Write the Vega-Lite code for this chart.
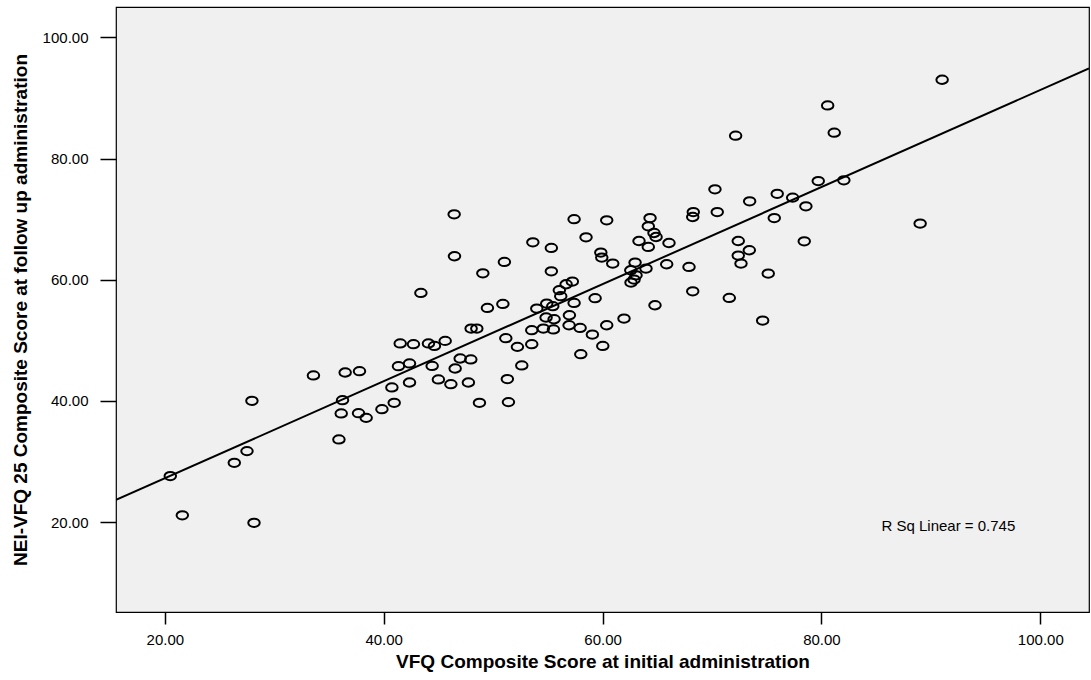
{
  "$schema": "https://vega.github.io/schema/vega-lite/v6.json",
  "autosize": {"type": "none"},
  "padding": {"left": 116, "top": 7, "right": 2, "bottom": 68},
  "width": 973,
  "height": 605,
  "background": "#ffffff",
  "config": {
    "view": {"fill": "#f0f0f0", "stroke": "#000000", "strokeWidth": 1.2},
    "font": "Liberation Sans",
    "axis": {
      "grid": false,
      "domain": false,
      "tickColor": "#000000",
      "tickWidth": 1.5,
      "labelColor": "#000000",
      "labelFont": "Liberation Sans",
      "labelFontSize": 15,
      "titleFont": "Liberation Sans",
      "titleFontWeight": "bold",
      "titleFontSize": 19,
      "titleColor": "#000000"
    }
  },
  "data": {
    "values": [
      {"initial": 20.50, "followup": 27.59},
      {"initial": 21.60, "followup": 21.11},
      {"initial": 28.15, "followup": 19.88},
      {"initial": 26.35, "followup": 29.78},
      {"initial": 27.51, "followup": 31.71},
      {"initial": 27.96, "followup": 40.01},
      {"initial": 36.24, "followup": 40.12},
      {"initial": 36.12, "followup": 37.93},
      {"initial": 35.91, "followup": 33.64},
      {"initial": 33.58, "followup": 44.20},
      {"initial": 41.51, "followup": 49.48},
      {"initial": 42.72, "followup": 49.36},
      {"initial": 44.09, "followup": 49.48},
      {"initial": 44.64, "followup": 49.08},
      {"initial": 45.62, "followup": 49.91},
      {"initial": 36.48, "followup": 44.69},
      {"initial": 37.79, "followup": 44.91},
      {"initial": 41.35, "followup": 45.73},
      {"initial": 42.36, "followup": 46.18},
      {"initial": 44.43, "followup": 45.78},
      {"initial": 46.99, "followup": 47.00},
      {"initial": 47.96, "followup": 46.84},
      {"initial": 46.53, "followup": 45.35},
      {"initial": 40.75, "followup": 42.22},
      {"initial": 42.36, "followup": 43.04},
      {"initial": 45.00, "followup": 43.54},
      {"initial": 46.14, "followup": 42.76},
      {"initial": 47.74, "followup": 43.04},
      {"initial": 37.70, "followup": 37.98},
      {"initial": 38.40, "followup": 37.20},
      {"initial": 39.84, "followup": 38.64},
      {"initial": 40.96, "followup": 39.68},
      {"initial": 48.75, "followup": 39.68},
      {"initial": 53.63, "followup": 66.19},
      {"initial": 55.32, "followup": 65.25},
      {"initial": 46.47, "followup": 63.88},
      {"initial": 46.44, "followup": 70.80},
      {"initial": 51.03, "followup": 62.94},
      {"initial": 49.06, "followup": 61.07},
      {"initial": 55.32, "followup": 61.40},
      {"initial": 43.40, "followup": 57.82},
      {"initial": 49.48, "followup": 55.35},
      {"initial": 50.89, "followup": 56.01},
      {"initial": 53.99, "followup": 55.25},
      {"initial": 54.90, "followup": 56.07},
      {"initial": 55.45, "followup": 55.63},
      {"initial": 54.84, "followup": 53.77},
      {"initial": 55.57, "followup": 53.48},
      {"initial": 47.99, "followup": 51.95},
      {"initial": 48.51, "followup": 51.95},
      {"initial": 53.53, "followup": 51.67},
      {"initial": 54.59, "followup": 51.95},
      {"initial": 55.51, "followup": 51.79},
      {"initial": 51.16, "followup": 50.35},
      {"initial": 52.22, "followup": 48.92},
      {"initial": 53.53, "followup": 49.36},
      {"initial": 52.62, "followup": 45.85},
      {"initial": 51.30, "followup": 43.60},
      {"initial": 51.40, "followup": 39.80},
      {"initial": 57.40, "followup": 70.00},
      {"initial": 64.18, "followup": 68.82},
      {"initial": 64.70, "followup": 67.72},
      {"initial": 64.89, "followup": 67.06},
      {"initial": 63.33, "followup": 66.40},
      {"initial": 64.18, "followup": 65.41},
      {"initial": 66.07, "followup": 66.07},
      {"initial": 58.49, "followup": 67.01},
      {"initial": 59.84, "followup": 64.49},
      {"initial": 59.93, "followup": 63.66},
      {"initial": 60.93, "followup": 62.67},
      {"initial": 62.97, "followup": 62.84},
      {"initial": 62.58, "followup": 61.57},
      {"initial": 63.97, "followup": 61.85},
      {"initial": 65.86, "followup": 62.56},
      {"initial": 67.90, "followup": 62.11},
      {"initial": 63.06, "followup": 60.74},
      {"initial": 62.88, "followup": 60.03},
      {"initial": 62.60, "followup": 59.54},
      {"initial": 57.24, "followup": 59.70},
      {"initial": 56.67, "followup": 59.26},
      {"initial": 56.05, "followup": 58.27},
      {"initial": 56.18, "followup": 57.28},
      {"initial": 59.32, "followup": 56.95},
      {"initial": 57.40, "followup": 56.17},
      {"initial": 56.97, "followup": 54.14},
      {"initial": 64.79, "followup": 55.79},
      {"initial": 68.24, "followup": 58.10},
      {"initial": 61.96, "followup": 53.60},
      {"initial": 60.38, "followup": 52.49},
      {"initial": 56.94, "followup": 52.49},
      {"initial": 57.95, "followup": 52.05},
      {"initial": 59.07, "followup": 50.96},
      {"initial": 60.02, "followup": 49.08},
      {"initial": 58.01, "followup": 47.71},
      {"initial": 72.16, "followup": 83.78},
      {"initial": 70.27, "followup": 74.93},
      {"initial": 73.44, "followup": 72.95},
      {"initial": 75.96, "followup": 74.19},
      {"initial": 68.29, "followup": 71.18},
      {"initial": 70.48, "followup": 71.18},
      {"initial": 68.24, "followup": 70.36},
      {"initial": 75.69, "followup": 70.19},
      {"initial": 60.38, "followup": 69.81},
      {"initial": 64.34, "followup": 70.19},
      {"initial": 72.40, "followup": 66.40},
      {"initial": 73.41, "followup": 64.87},
      {"initial": 72.40, "followup": 63.99},
      {"initial": 72.65, "followup": 62.67},
      {"initial": 75.14, "followup": 61.02},
      {"initial": 71.58, "followup": 57.00},
      {"initial": 80.57, "followup": 88.78},
      {"initial": 81.17, "followup": 84.28},
      {"initial": 79.71, "followup": 76.30},
      {"initial": 82.05, "followup": 76.41},
      {"initial": 77.37, "followup": 73.56},
      {"initial": 78.58, "followup": 72.12},
      {"initial": 78.43, "followup": 66.35},
      {"initial": 74.63, "followup": 53.27},
      {"initial": 91.03, "followup": 93.02},
      {"initial": 89.02, "followup": 69.27}
    ]
  },
  "layer": [
    {
      "mark": {
        "type": "point",
        "shape": "M -1 0 A 1 0.72 0 1 0 1 0 A 1 0.72 0 1 0 -1 0 Z",
        "filled": false,
        "stroke": "#000000",
        "strokeWidth": 2,
        "size": 132,
        "opacity": 1
      },
      "encoding": {
        "x": {
          "field": "initial",
          "type": "quantitative",
          "scale": {"domain": [15.54, 104.45], "nice": false, "zero": false},
          "axis": {
            "values": [20, 40, 60, 80, 100],
            "format": ".2f",
            "tickSize": 12,
            "labelPadding": 8,
            "title": "VFQ Composite Score at initial administration",
            "titlePadding": 5
          }
        },
        "y": {
          "field": "followup",
          "type": "quantitative",
          "scale": {"domain": [5.15, 105.03], "nice": false, "zero": false},
          "axis": {
            "values": [20, 40, 60, 80, 100],
            "format": ".2f",
            "tickSize": 16,
            "labelPadding": 12,
            "title": "NEI-VFQ 25 Composite Score at follow up administration",
            "titlePadding": 12
          }
        }
      }
    },
    {
      "transform": [
        {"regression": "followup", "on": "initial", "extent": [15.54, 104.45]}
      ],
      "mark": {"type": "line", "color": "#000000", "strokeWidth": 2, "clip": true},
      "encoding": {
        "x": {"field": "initial", "type": "quantitative"},
        "y": {"field": "followup", "type": "quantitative"}
      }
    },
    {
      "data": {"values": [{"initial": 91.6, "followup": 19.4, "label": "R Sq Linear = 0.745"}]},
      "mark": {"type": "text", "font": "Liberation Sans", "fontSize": 15, "color": "#000000"},
      "encoding": {
        "x": {"field": "initial", "type": "quantitative"},
        "y": {"field": "followup", "type": "quantitative"},
        "text": {"field": "label"}
      }
    }
  ]
}
